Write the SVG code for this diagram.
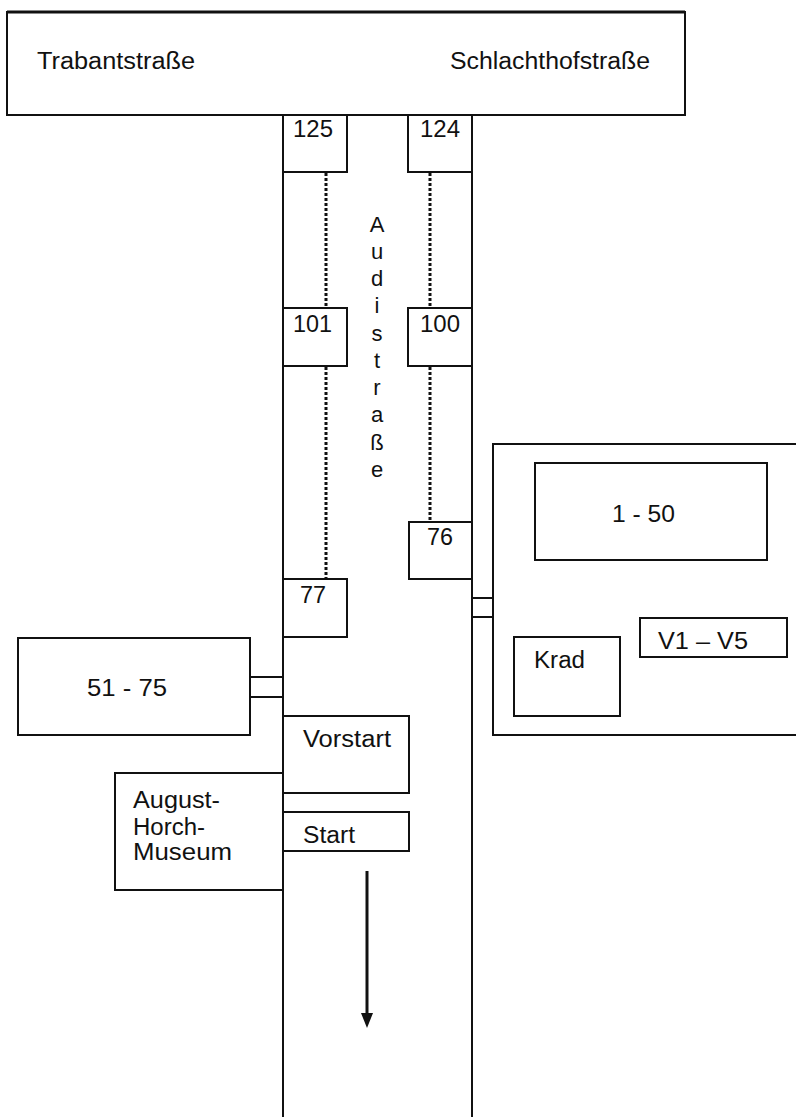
<svg xmlns="http://www.w3.org/2000/svg" width="796" height="1117" viewBox="0 0 796 1117">
<style>
.b{fill:#fff;stroke:#111;stroke-width:2}
.ln{stroke:#111;stroke-width:2;fill:none}
.dot{stroke:#111;stroke-width:3;stroke-dasharray:3 2;fill:none}
.t{font-family:"Liberation Sans",Arial,sans-serif;font-size:23px;fill:#111}
.v{font-family:"Liberation Sans",Arial,sans-serif;font-size:22px;fill:#111;text-anchor:middle}
</style>
<defs>
<marker id="ah" markerWidth="5" markerHeight="4" refX="0" refY="2" orient="auto" markerUnits="strokeWidth">
<path d="M0,0 L5,2 L0,4 z" fill="#111"/>
</marker>
</defs>
<rect width="796" height="1117" fill="#fff"/>
<g id="road">
<line class="ln" x1="283" y1="115" x2="283" y2="1117"/>
<line class="ln" x1="472" y1="115" x2="472" y2="1117"/>
</g>
<g id="top-street">
<rect class="b" x="7" y="12" width="678" height="103"/>
<line x1="7" y1="12" x2="685" y2="12" stroke="#111" stroke-width="3"/>
<text class="t" x="37" y="69" textLength="158" lengthAdjust="spacingAndGlyphs">Trabantstraße</text>
<text class="t" x="450" y="69" textLength="200" lengthAdjust="spacingAndGlyphs">Schlachthofstraße</text>
</g>
<g id="audistrasse">
<text class="v" x="377" y="232">A</text>
<text class="v" x="377" y="259">u</text>
<text class="v" x="377" y="286">d</text>
<text class="v" x="377" y="313">i</text>
<text class="v" x="377" y="341">s</text>
<text class="v" x="377" y="368">t</text>
<text class="v" x="377" y="395">r</text>
<text class="v" x="377" y="422">a</text>
<text class="v" x="377" y="450">ß</text>
<text class="v" x="377" y="477">e</text>
</g>
<g id="n125"><rect class="b" x="283" y="115" width="64" height="57"/><text class="t" x="293" y="137" textLength="40" lengthAdjust="spacingAndGlyphs">125</text></g>
<g id="n124"><rect class="b" x="408" y="115" width="64" height="57"/><text class="t" x="420" y="137" textLength="40" lengthAdjust="spacingAndGlyphs">124</text></g>
<g id="n101"><rect class="b" x="283" y="308" width="64" height="58"/><text class="t" x="293" y="332" textLength="39" lengthAdjust="spacingAndGlyphs">101</text></g>
<g id="n100"><rect class="b" x="408" y="308" width="64" height="58"/><text class="t" x="420" y="332" textLength="40" lengthAdjust="spacingAndGlyphs">100</text></g>
<g id="n76"><rect class="b" x="409" y="522" width="63" height="57"/><text class="t" x="427" y="545" textLength="26" lengthAdjust="spacingAndGlyphs">76</text></g>
<g id="n77"><rect class="b" x="283" y="579" width="64" height="58"/><text class="t" x="300" y="603" textLength="26" lengthAdjust="spacingAndGlyphs">77</text></g>
<g id="n51-75"><rect class="b" x="18" y="638" width="232" height="97"/><text class="t" x="87" y="696" textLength="80" lengthAdjust="spacingAndGlyphs">51 - 75</text></g>
<g id="vorstart"><rect class="b" x="283" y="716" width="126" height="77"/><text class="t" x="303" y="747" textLength="88" lengthAdjust="spacingAndGlyphs">Vorstart</text></g>
<g id="start"><rect class="b" x="283" y="812" width="126" height="39"/><text class="t" x="303" y="843" textLength="52" lengthAdjust="spacingAndGlyphs">Start</text></g>
<g id="museum"><rect class="b" x="115" y="773" width="168" height="117"/>
<text class="t" x="133" y="808" textLength="87" lengthAdjust="spacingAndGlyphs">August-</text>
<text class="t" x="133" y="835" textLength="72" lengthAdjust="spacingAndGlyphs">Horch-</text>
<text class="t" x="133" y="860" textLength="99" lengthAdjust="spacingAndGlyphs">Museum</text>
</g>
<g id="parking-right"><rect class="b" x="493" y="444" width="310" height="291"/></g>
<g id="n1-50"><rect class="b" x="535" y="463" width="232" height="97"/><text class="t" x="612" y="522" textLength="63" lengthAdjust="spacingAndGlyphs">1 - 50</text></g>
<g id="v1-v5"><rect class="b" x="640" y="618" width="147" height="39"/><text class="t" x="658" y="649" textLength="90" lengthAdjust="spacingAndGlyphs">V1 – V5</text></g>
<g id="krad"><rect class="b" x="514" y="637" width="106" height="79"/><text class="t" x="534" y="668" textLength="51" lengthAdjust="spacingAndGlyphs">Krad</text></g>
<g id="connectors">
<line class="dot" x1="326" y1="173" x2="326" y2="307"/>
<line class="dot" x1="326" y1="367" x2="326" y2="578"/>
<line class="dot" x1="430" y1="173" x2="430" y2="307"/>
<line class="dot" x1="430" y1="367" x2="430" y2="521"/>
<line class="ln" x1="250" y1="677" x2="283" y2="677"/>
<line class="ln" x1="250" y1="697" x2="283" y2="697"/>
<line class="ln" x1="472" y1="598" x2="493" y2="598"/>
<line class="ln" x1="472" y1="617" x2="493" y2="617"/>
<line x1="367" y1="871" x2="367" y2="1013" stroke="#111" stroke-width="3" marker-end="url(#ah)"/>
</g>
</svg>
